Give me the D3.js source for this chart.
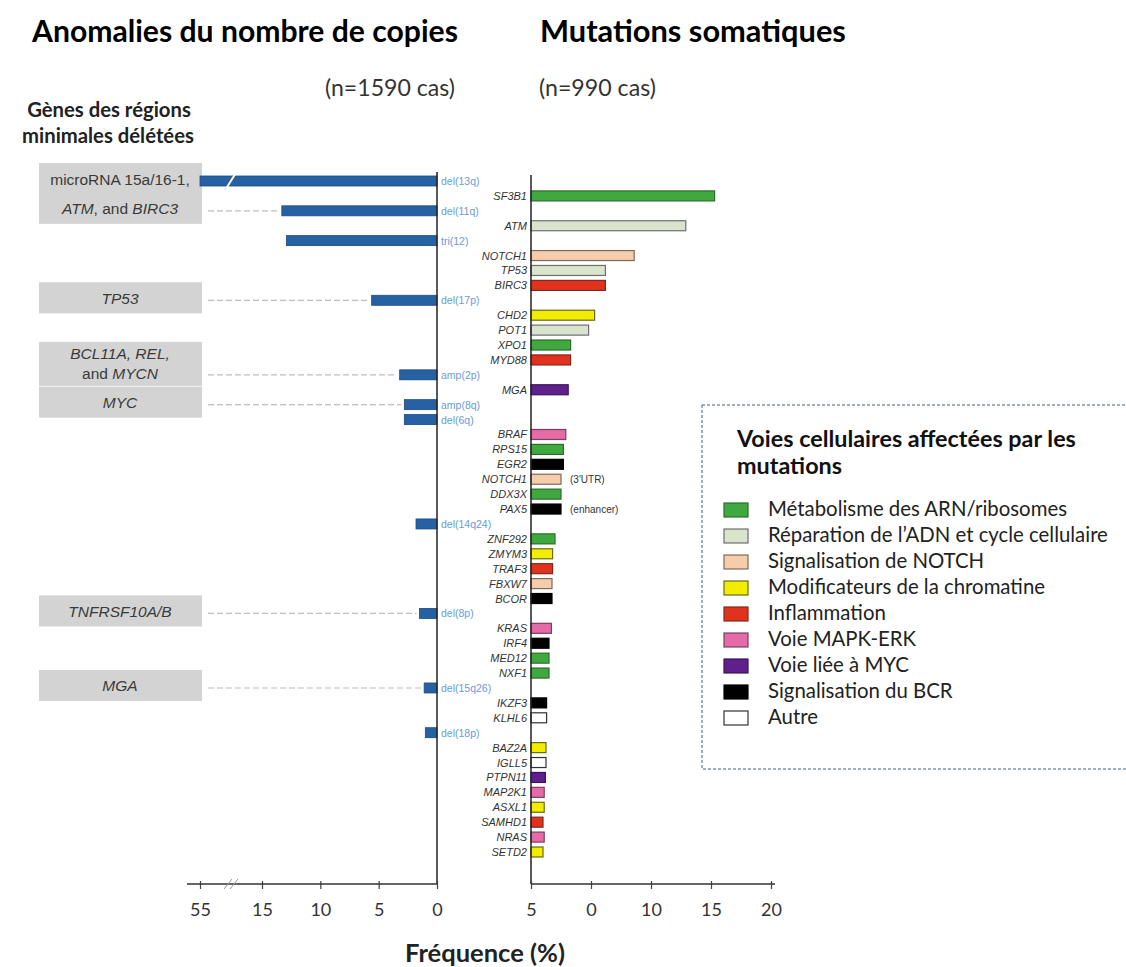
<!DOCTYPE html>
<html>
<head>
<meta charset="utf-8">
<script src="https://cdn.jsdelivr.net/npm/d3@7/dist/d3.min.js"></script>
<style>
  body { margin: 0; background: #fff; }
  svg text { font-family: Lato, "Open Sans", sans-serif; }
  .gene { font-family: "Liberation Sans", Arial, sans-serif; font-style: italic; font-size: 11px; fill: #333; }
  .note { font-family: "Liberation Sans", Arial, sans-serif; font-size: 10px; fill: #333; }
  .cna { font-family: "Liberation Sans", Arial, sans-serif; font-size: 10.5px; fill: #6b9bd6; }
  .boxText { font-family: "Liberation Sans", Arial, sans-serif; font-size: 15.5px; fill: #3a3a3a; }
  .tick text { font-family: Lato, sans-serif; font-size: 18px; fill: #333; }
</style>
</head>
<body>
<svg id="chart" width="1126" height="967"></svg>
<script>
// copy number alterations (left panel), % of 1590 cases
var cnaLabels = ["del(13q)","del(11q)","tri(12)","del(17p)","amp(2p)","amp(8q)","del(6q)","del(14q24)","del(8p)","del(15q26)","del(18p)"]
var cnaValues = [55, 13.3, 12.9, 5.6, 3.2, 2.8, 2.8, 1.8, 1.5, 1.1, 1.0]

// somatic mutations (right panel), % of 990 cases
var mutGenes = ["SF3B1","ATM","NOTCH1","TP53","BIRC3","CHD2","POT1","XPO1","MYD88","MGA",
  "BRAF","RPS15","EGR2","NOTCH1 (3'UTR)","DDX3X","PAX5 (enhancer)","ZNF292","ZMYM3","TRAF3","FBXW7",
  "BCOR","KRAS","IRF4","MED12","NXF1","IKZF3","KLHL6","BAZ2A","IGLL5","PTPN11",
  "MAP2K1","ASXL1","SAMHD1","NRAS","SETD2"]
var mutValues = [15.3, 12.9, 8.6, 6.2, 6.2, 5.3, 4.8, 3.3, 3.3, 3.1,
  2.9, 2.7, 2.7, 2.5, 2.5, 2.5, 2.0, 1.8, 1.8, 1.75,
  1.75, 1.7, 1.5, 1.5, 1.5, 1.3, 1.3, 1.25, 1.25, 1.2,
  1.1, 1.1, 1.0, 1.1, 1.0]
var mutPathways = ["rna","dna","notch","dna","inf","chrom","dna","rna","inf","myc",
  "mapk","rna","bcr","notch","rna","bcr","rna","chrom","inf","notch",
  "bcr","mapk","bcr","rna","rna","bcr","other","chrom","other","myc",
  "mapk","chrom","inf","mapk","chrom"]

// top-to-bottom order of all rows (both panels share the rows)
var rowOrder = ["del(13q)","SF3B1","del(11q)","ATM","tri(12)","NOTCH1","TP53","BIRC3","del(17p)","CHD2",
  "POT1","XPO1","MYD88","amp(2p)","MGA","amp(8q)","del(6q)","BRAF","RPS15","EGR2",
  "NOTCH1 (3'UTR)","DDX3X","PAX5 (enhancer)","del(14q24)","ZNF292","ZMYM3","TRAF3","FBXW7","BCOR","del(8p)",
  "KRAS","IRF4","MED12","NXF1","del(15q26)","IKZF3","KLHL6","del(18p)","BAZ2A","IGLL5",
  "PTPN11","MAP2K1","ASXL1","SAMHD1","NRAS","SETD2"]

// genes of the minimal deleted regions, linked to their alteration rows
var regionLines = [["microRNA 15a/16-1,","*ATM*, and *BIRC3*"],["*TP53*"],["*BCL11A, REL,*","and *MYCN*"],["*MYC*"],["*TNFRSF10A/B*"],["*MGA*"]]
var regionRows = [["del(13q)","del(11q)"],["del(17p)"],["amp(2p)"],["amp(8q)"],["del(8p)"],["del(15q26)"]]

var pathwayKeys = ["rna","dna","notch","chrom","inf","mapk","myc","bcr","other"]
var pathwayNames = ["Métabolisme des ARN/ribosomes","Réparation de l’ADN et cycle cellulaire","Signalisation de NOTCH",
  "Modificateurs de la chromatine","Inflammation","Voie MAPK-ERK","Voie liée à MYC","Signalisation du BCR","Autre"]

var leftTicks = [0, 5, 10, 15, 55]
var leftTickLabels = ["0","5","10","15","55"]
var rightTicks = [0, 5, 10, 15, 20]
var rightTickLabels = ["5","0","10","15","20"]

var FILL = {rna:"#3fa93f", dna:"#d8e4cc", notch:"#f6cdaa", chrom:"#f2ec00", inf:"#e2321e",
  mapk:"#e46aa8", myc:"#5f1f8c", bcr:"#000000", other:"#ffffff"}
var STROKE = {rna:"#2b6e2b", dna:"#6f6f6f", notch:"#7d6a5e", chrom:"#6a6a20", inf:"#7a2a20",
  mapk:"#7a4060", myc:"#3a1458", bcr:"#000000", other:"#333333"}

var svg = d3.select("#chart")

var y = d3.scalePoint().domain(rowOrder).range([181, 852])
var xL = d3.scaleLinear().domain([0, 15, 55]).range([437, 262, 200])
var xR = d3.scaleLinear().domain([0, 20]).range([531, 771])
var axisY = 884, barH = 10

function fit(sel, w){
  var l = sel.node().getComputedTextLength(), fs = parseFloat(sel.style("font-size"))
  sel.style("font-size", (fs * w / l) + "px")
  return fs * w / l
}

// headings
fit(svg.append("text").attr("x", 32).attr("y", 42).style("font-weight", 700).style("font-size", "24px")
  .text("Anomalies du nombre de copies"), 426)
fit(svg.append("text").attr("x", 540).attr("y", 42).style("font-weight", 700).style("font-size", "24px")
  .text("Mutations somatiques"), 306)
fit(svg.append("text").attr("x", 325).attr("y", 96).style("font-size", "16px").style("fill", "#333")
  .text("(n=1590 cas)"), 130)
fit(svg.append("text").attr("x", 539).attr("y", 96).style("font-size", "16px").style("fill", "#333")
  .text("(n=990 cas)"), 117)
var hs = fit(svg.append("text").attr("x", 108).attr("y", 143).attr("text-anchor", "middle").style("font-weight", 700).style("font-size", "17px").style("fill", "#222")
  .text("minimales délétées"), 172)
svg.append("text").attr("x", 109).attr("y", 117).attr("text-anchor", "middle").style("font-weight", 700).style("font-size", hs + "px").style("fill", "#222")
  .text("Gènes des régions")

// region boxes with their genes
regionLines.forEach(function(lines, i){
  var rows = regionRows[i], ly, top, bottom
  if(rows.length == lines.length){
    ly = rows.map(function(r){ return y(r) - 2 })
    top = d3.min(ly) - 16
    bottom = d3.max(ly) + 15
  }else{
    ly = lines.map(function(l, j){ return y(rows[0]) - 1 - (lines.length - 1 - j) * 20 })
    top = d3.min(ly) - 12
    bottom = d3.max(ly) + 12
  }
  svg.append("rect").attr("x", 39).attr("y", top).attr("width", 163).attr("height", bottom - top)
    .attr("fill", "#d3d3d3")
  lines.forEach(function(l, j){
    var t = svg.append("text").attr("class", "boxText").attr("x", 120).attr("y", ly[j] + 5.5)
      .attr("text-anchor", "middle")
    l.split("*").forEach(function(part, k){
      if(part == "") return
      t.append("tspan").style("font-style", k % 2 ? "italic" : "normal").text(part)
    })
  })
  var last = rows[rows.length - 1]
  var v = cnaValues[cnaLabels.indexOf(last)]
  svg.append("line").attr("x1", 208).attr("x2", xL(v) - 3).attr("y1", y(last)).attr("y2", y(last))
    .attr("stroke", "#bdbdbd").attr("stroke-width", 1.2).attr("stroke-dasharray", "6,3")
})

// left bars
svg.selectAll(".cnaBar").data(cnaLabels).enter().append("rect")
  .attr("class", "cnaBar")
  .attr("x", function(d, i){ return xL(cnaValues[i]) })
  .attr("y", function(d){ return y(d) - barH / 2 })
  .attr("width", function(d, i){ return xL(0) - xL(cnaValues[i]) })
  .attr("height", barH)
  .attr("fill", "#2661a4").attr("stroke", "#1b4a80").attr("stroke-width", 0.8)

// break on the del(13q) bar
var xb = (xL(15) + xL(55)) / 2
svg.append("line").attr("x1", xb - 5).attr("x2", xb + 5).attr("y1", y(cnaLabels[0]) + 8).attr("y2", y(cnaLabels[0]) - 8)
  .attr("stroke", "#f2c79a").attr("stroke-width", 1).attr("transform", "translate(-1.5,1)")
svg.append("line").attr("x1", xb - 5).attr("x2", xb + 5).attr("y1", y(cnaLabels[0]) + 8).attr("y2", y(cnaLabels[0]) - 8)
  .attr("stroke", "#ffffff").attr("stroke-width", 1.6)

svg.selectAll(".cna").data(cnaLabels).enter().append("text")
  .attr("class", "cna")
  .attr("x", xL(0) + 4)
  .attr("y", function(d){ return y(d) + 4 })
  .text(function(d){ return d })

// right bars
svg.selectAll(".mutBar").data(mutGenes).enter().append("rect")
  .attr("class", "mutBar")
  .attr("x", xR(0))
  .attr("y", function(d){ return y(d) - barH / 2 })
  .attr("width", function(d, i){ return xR(mutValues[i]) - xR(0) })
  .attr("height", barH)
  .attr("fill", function(d, i){ return FILL[mutPathways[i]] })
  .attr("stroke", function(d, i){ return STROKE[mutPathways[i]] })
  .attr("stroke-width", 1.2)

svg.selectAll(".gene").data(mutGenes).enter().append("text")
  .attr("class", "gene")
  .attr("x", xR(0) - 4)
  .attr("y", function(d){ return y(d) + 4 })
  .attr("text-anchor", "end")
  .text(function(d){ return d.split(" ")[0] })

mutGenes.forEach(function(g, i){
  var note = g.split(" ")[1]
  if(!note) return
  svg.append("text").attr("class", "note").attr("x", xR(mutValues[i]) + 9).attr("y", y(g) + 4).text(note)
})

// vertical baselines
svg.append("line").attr("x1", xL(0)).attr("x2", xL(0)).attr("y1", 172).attr("y2", axisY)
  .attr("stroke", "#222").attr("stroke-width", 1.5)
svg.append("line").attr("x1", xR(0)).attr("x2", xR(0)).attr("y1", 175).attr("y2", axisY)
  .attr("stroke", "#222").attr("stroke-width", 1.5)

// axes
var gL = svg.append("g").attr("transform", "translate(0," + axisY + ")")
  .call(d3.axisBottom(xL).tickValues(leftTicks).tickFormat(function(d, i){ return leftTickLabels[i] })
    .tickSize(5).tickPadding(14))
var gR = svg.append("g").attr("transform", "translate(0," + axisY + ")")
  .call(d3.axisBottom(xR).tickValues(rightTicks).tickFormat(function(d, i){ return rightTickLabels[i] })
    .tickSize(5).tickPadding(14))
svg.selectAll(".domain").remove()
svg.selectAll(".tick line").attr("y1", -3).attr("stroke", "#444").attr("stroke-width", 1.2)
gL.append("line").attr("x1", 187).attr("x2", xL(0)).attr("stroke", "#333").attr("stroke-width", 1.5)
gR.append("line").attr("x1", xR(0)).attr("x2", 775).attr("stroke", "#333").attr("stroke-width", 1.5)
;[-3, 3].forEach(function(o){
  gL.append("line").attr("x1", xb + o - 4).attr("x2", xb + o + 4).attr("y1", 5).attr("y2", -5)
    .attr("stroke", "#999").attr("stroke-width", 1)
})

fit(svg.append("text").attr("x", 485).attr("y", 962).attr("text-anchor", "middle")
  .style("font-weight", 700).style("font-size", "18px").style("fill", "#222")
  .text("Fréquence (%)"), 160)

// legend
var lg = svg.append("g")
lg.append("rect").attr("x", 702).attr("y", 405).attr("width", 440).attr("height", 364)
  .attr("fill", "none").attr("stroke", "#3d5f8f").attr("stroke-width", 1).attr("stroke-dasharray", "3,2")
var ts = fit(lg.append("text").attr("x", 737).attr("y", 447).style("font-weight", 700).style("font-size", "20px").style("fill", "#111")
  .text("Voies cellulaires affectées par les"), 339)
lg.append("text").attr("x", 737).attr("y", 474).style("font-weight", 700).style("font-size", ts + "px").style("fill", "#111")
  .text("mutations")

var items = lg.selectAll(".item").data(pathwayKeys).enter().append("g")
  .attr("class", "item")
  .attr("transform", function(d, i){ return "translate(724," + (510 + i * 26) + ")" })
items.append("rect").attr("x", 0).attr("y", -7).attr("width", 24).attr("height", 14)
  .attr("fill", function(d){ return FILL[d] }).attr("stroke", function(d){ return STROKE[d] }).attr("stroke-width", 1.2)
var itemText = items.append("text").attr("x", 44).attr("y", 6).style("font-size", "17px").style("fill", "#222")
  .text(function(d, i){ return pathwayNames[i] })
var fs = fit(d3.select(itemText.nodes()[0]), 299)
itemText.style("font-size", fs + "px")
</script>
</body>
</html>
